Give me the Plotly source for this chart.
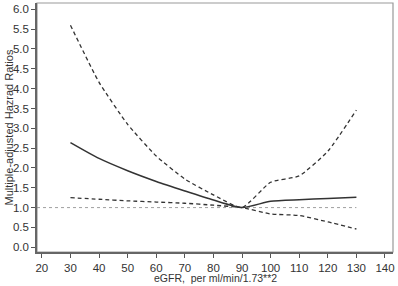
import plotly.graph_objects as go

egfr = [30, 40, 50, 60, 70, 80, 90, 100, 110, 120, 130]
hr = [2.64, 2.24, 1.93, 1.66, 1.42, 1.19, 1.0, 1.16, 1.20, 1.23, 1.26]
upper = [5.60, 4.16, 3.10, 2.30, 1.72, 1.32, 1.0, 1.64, 1.80, 2.42, 3.46]
lower = [1.25, 1.21, 1.17, 1.14, 1.11, 1.06, 1.0, 0.84, 0.80, 0.64, 0.46]
ref_x = [18.3, 130]
ref_y = [1.0, 1.0]
xticks = [20, 30, 40, 50, 60, 70, 80, 90, 100, 110, 120, 130, 140]
yticks = [0.0, 0.5, 1.0, 1.5, 2.0, 2.5, 3.0, 3.5, 4.0, 4.5, 5.0, 5.5, 6.0]

fig = go.Figure()
fig.add_trace(go.Scatter(x=ref_x, y=ref_y, mode="lines",
                         line=dict(color="#888888", width=0.8, dash="dot"), showlegend=False))
fig.add_trace(go.Scatter(x=egfr, y=upper, mode="lines",
                         line=dict(color="#333333", width=1.3, dash="4px,3px", shape="spline", smoothing=0.5),
                         showlegend=False))
fig.add_trace(go.Scatter(x=egfr, y=lower, mode="lines",
                         line=dict(color="#333333", width=1.3, dash="4px,3px", shape="spline", smoothing=0.5),
                         showlegend=False))
fig.add_trace(go.Scatter(x=egfr, y=hr, mode="lines",
                         line=dict(color="#333333", width=1.5, shape="spline", smoothing=0.6),
                         showlegend=False))

font = dict(family="Liberation Sans, Arial, sans-serif", color="#333333")
fig.update_layout(
    width=398, height=286,
    margin=dict(l=37, r=5, t=3, b=34, autoexpand=False),
    plot_bgcolor="white", paper_bgcolor="white",
    font=dict(size=11, **font),
    xaxis=dict(range=[18.3, 142.8], tickvals=xticks, ticktext=[str(v) for v in xticks],
               ticks="outside", ticklen=4, tickcolor="#555555", showgrid=False, zeroline=False,
               showline=True, linecolor="#666666", linewidth=1.5, mirror=False, automargin=False,
               tickfont=dict(size=11.5, **font)),
    yaxis=dict(range=[-0.12, 6.16], tickvals=yticks, ticktext=[f"{v:.1f}" for v in yticks],
               ticks="outside", ticklen=4, tickcolor="#555555", showgrid=False, zeroline=False,
               showline=True, linecolor="#666666", linewidth=1.5, mirror=False, automargin=False,
               tickfont=dict(size=11.5, **font)),
)
fig.add_annotation(text="eGFR,  per ml/min/1.73**2", xref="paper", yref="paper",
                   x=0.5, y=0, yshift=-26, xanchor="center", yanchor="middle",
                   showarrow=False, font=dict(size=10.5, **font))
fig.add_annotation(text="Multiple-adjusted Hazrad Ratios", xref="paper", yref="paper",
                   x=0, y=0.5, xshift=-29, xanchor="center", yanchor="middle", textangle=-90,
                   showarrow=False, font=dict(size=11, **font))
fig.add_shape(type="rect", xref="paper", yref="paper", x0=0, y0=0, x1=1, y1=1,
              line=dict(color="#999999", width=1.2), layer="below")
fig.write_html("out.html", config={"displayModeBar": False},
               post_script="document.body.style.margin='0';document.body.style.overflow='hidden';")
